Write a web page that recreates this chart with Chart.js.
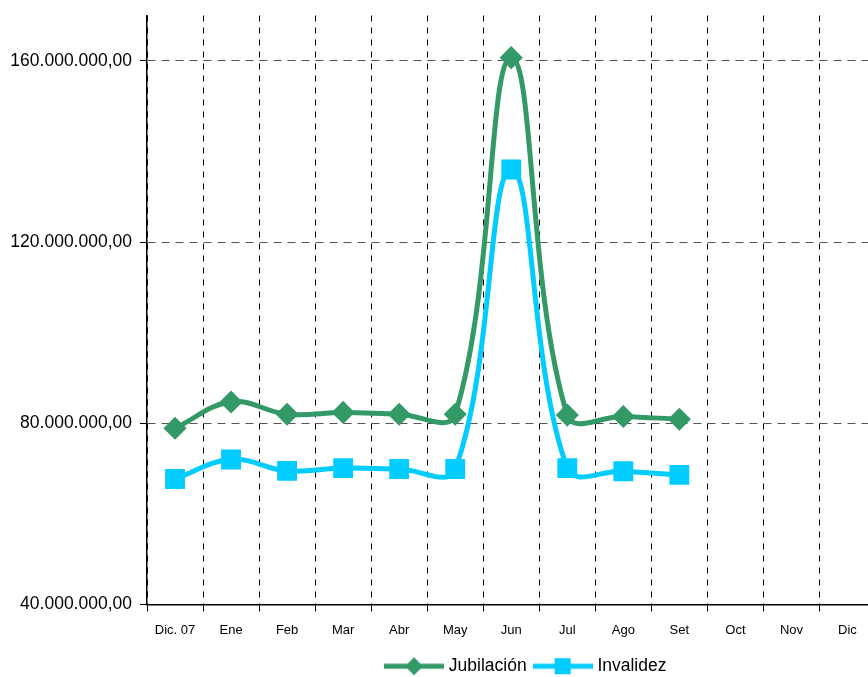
<!DOCTYPE html>
<html>
<head>
<meta charset="utf-8">
<script src="https://cdn.jsdelivr.net/npm/chart.js@4/dist/chart.umd.min.js"></script>
<style>
  html, body { margin: 0; padding: 0; background: #fff; overflow: hidden; }
  #pagosChart { display: block; width: 891px; height: 677px; }
</style>
</head>
<body>
<canvas id="pagosChart" width="891" height="677"></canvas>
<script>
// Categorías (meses)
const meses = ['Dic. 07', 'Ene', 'Feb', 'Mar', 'Abr', 'May', 'Jun', 'Jul', 'Ago', 'Set', 'Oct', 'Nov', 'Dic'];

// Valores (en pesos)
const jubilacion = [78900000, 84700000, 82000000, 82400000, 82000000, 82000000, 160700000, 81800000, 81500000, 80900000, null, null, null];
const invalidez = [67700000, 72000000, 69500000, 70100000, 69900000, 69900000, 136000000, 70100000, 69400000, 68600000, null, null, null];

// Eje Y
const yMin = 40000000;
const yMax = 170000000;
const yTicks = [40000000, 80000000, 120000000, 160000000];

const fuente = "'Liberation Sans', Arial, sans-serif";
const verde = '#339966';
const celeste = '#00ccff';

// Formato 160.000.000,00
function formatoNumero(v) {
  const entero = Math.round(v).toString().replace(/\B(?=(\d{3})+(?!\d))/g, '.');
  return entero + ',00';
}

// Icono de leyenda: línea con marcador
function iconoLeyenda(color, forma) {
  const c = document.createElement('canvas');
  c.width = 60;
  c.height = 20;
  const g = c.getContext('2d');
  g.strokeStyle = color;
  g.lineWidth = 5;
  g.beginPath();
  g.moveTo(0, 10);
  g.lineTo(60, 10);
  g.stroke();
  g.fillStyle = color;
  g.beginPath();
  if (forma === 'rombo') {
    g.moveTo(30, 1); g.lineTo(39, 10); g.lineTo(30, 19); g.lineTo(21, 10);
  } else {
    g.rect(22, 2, 16, 16);
  }
  g.closePath();
  g.fill();
  return c;
}
const iconos = [iconoLeyenda(verde, 'rombo'), iconoLeyenda(celeste, 'cuadro')];

// Desplaza la leyenda (a la derecha y hacia abajo, como en el original)
const moverLeyenda = {
  id: 'moverLeyenda',
  afterLayout: function(chart) {
    const l = chart.legend;
    if (l) {
      l.left += 16; l.right += 16;
      l.top += 8; l.bottom += 8;
    }
  }
};

const ctx = document.getElementById('pagosChart').getContext('2d');
const pagosChart = new Chart(ctx, {
  type: 'line',
  data: {
    labels: meses,
    datasets: [{
      label: 'Jubilación',
      data: jubilacion,
      borderColor: verde,
      backgroundColor: verde,
      borderWidth: 5,
      tension: 0.4,
      pointStyle: 'rectRot',
      pointRadius: 8,
      pointHoverRadius: 8
    }, {
      label: 'Invalidez',
      data: invalidez,
      borderColor: celeste,
      backgroundColor: celeste,
      borderWidth: 5,
      tension: 0.4,
      pointStyle: 'rect',
      pointRadius: 10.5,
      pointHoverRadius: 10.5
    }]
  },
  plugins: [moverLeyenda],
  options: {
    responsive: false,
    animation: false,
    devicePixelRatio: 1,
    layout: { padding: { top: 6, right: 0, bottom: 0, left: 0 } },
    plugins: {
      tooltip: { enabled: false },
      legend: {
        position: 'bottom',
        fullSize: false,
        labels: {
          color: '#000',
          font: { family: fuente, size: 17.5 },
          usePointStyle: true,
          pointStyleWidth: 52,
          padding: 10,
          generateLabels: function(chart) {
            const items = Chart.defaults.plugins.legend.labels.generateLabels(chart);
            items.forEach((it, i) => { it.pointStyle = iconos[i]; });
            return items;
          }
        }
      }
    },
    scales: {
      x: {
        offset: true,
        afterFit: function(scale) { scale.height = 35; },
        grid: {
          offset: true,
          color: '#000',
          lineWidth: 1,
          drawTicks: true,
          tickLength: 7,
          tickColor: '#000'
        },
        border: { display: true, color: '#000', width: 1.5, dash: [6, 6] },
        ticks: {
          color: '#000',
          font: { family: fuente, size: 13 },
          padding: 11,
          maxRotation: 0,
          autoSkip: false
        }
      },
      y: {
        min: yMin,
        max: yMax,
        afterFit: function(scale) {
          scale.width = 147;
          scale.paddingTop = 0;
        },
        afterBuildTicks: function(scale) { scale.ticks = yTicks.map(v => ({ value: v })); },
        grid: {
          color: '#555',
          lineWidth: 1,
          drawTicks: true,
          tickLength: 7,
          tickColor: '#000'
        },
        border: { display: true, color: '#000', width: 1.5, dash: [8, 6] },
        ticks: {
          color: '#000',
          font: { family: fuente, size: 17.5 },
          padding: 8,
          callback: function(v) { return formatoNumero(v); }
        }
      }
    }
  }
});
</script>
</body>
</html>
